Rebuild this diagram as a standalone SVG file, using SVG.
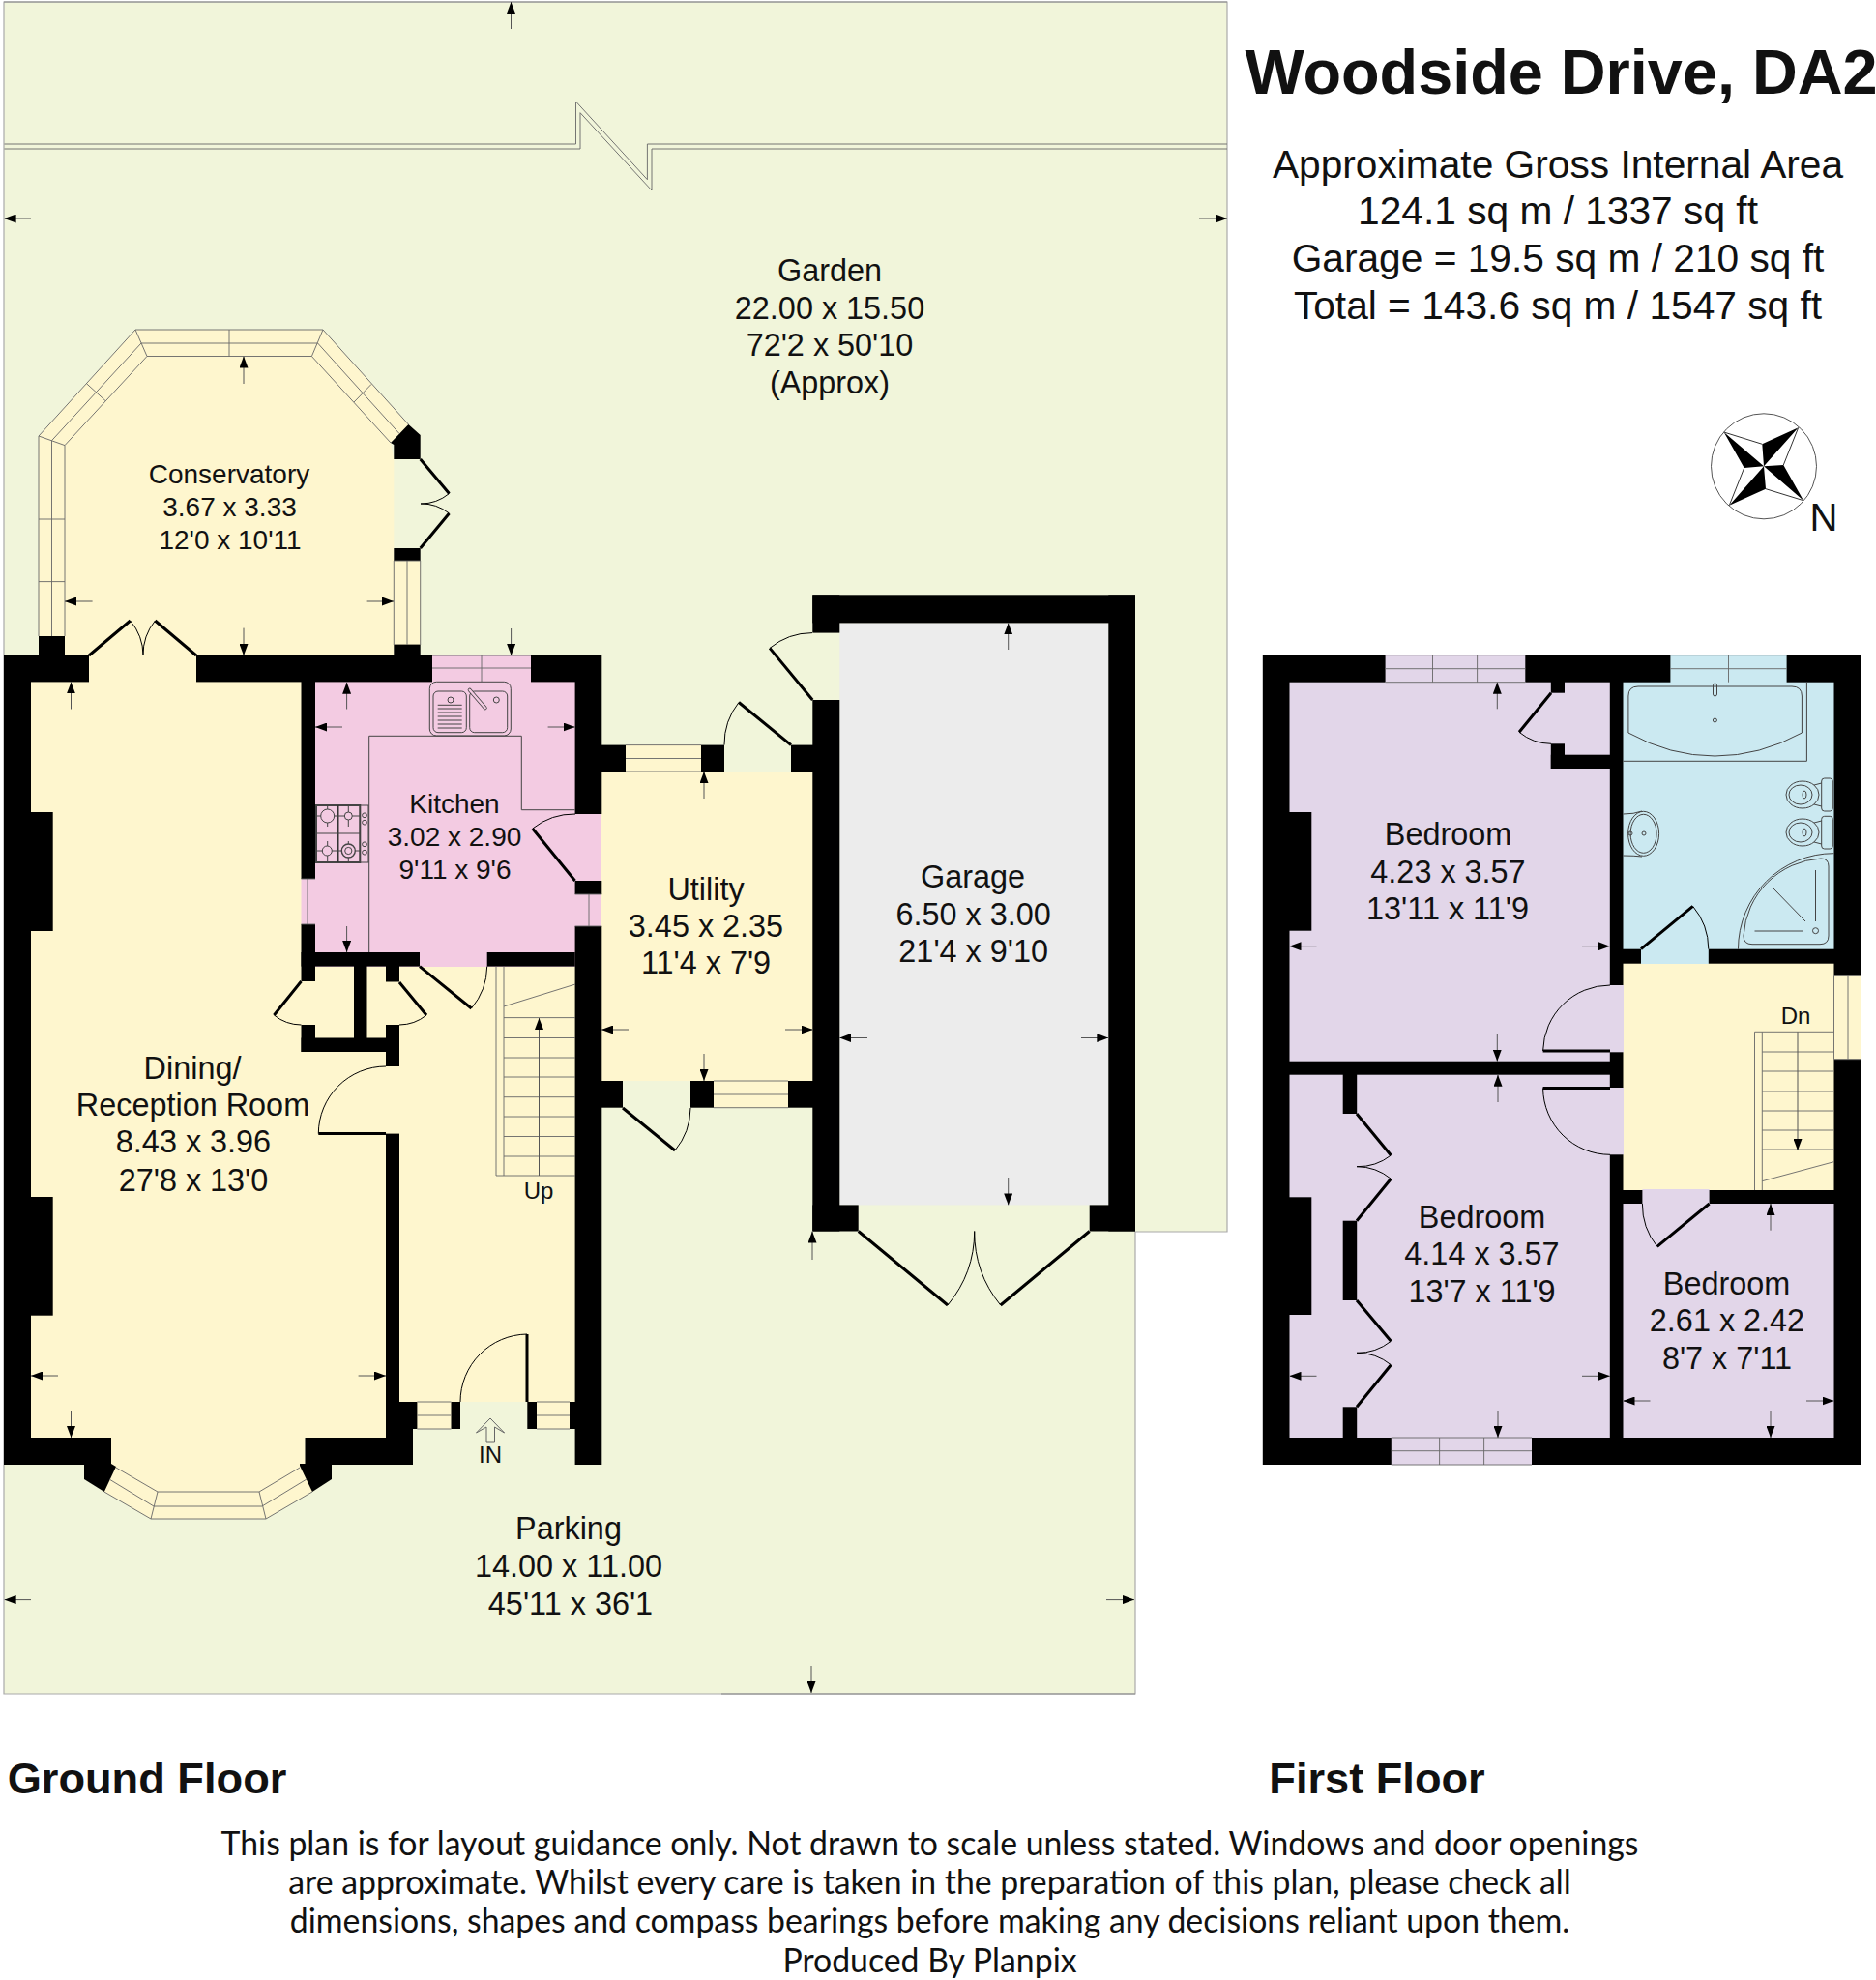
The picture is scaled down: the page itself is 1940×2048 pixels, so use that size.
<svg xmlns="http://www.w3.org/2000/svg" width="1940" height="2048" viewBox="0 0 1940 2048">
<style>
text{font-family:"Liberation Sans",Arial,sans-serif;fill:#111;text-anchor:middle}
.t32{font-size:32.4px}.t28{font-size:28px}.t24{font-size:24px}.t40{font-size:40.7px}
.b{font-weight:bold}
.cream{fill:#FEF6CE}.pink{fill:#F3CBE2}.lav{fill:#E2D6E9}.blue{fill:#CBE9F1}.grey{fill:#ECECEC}
.w{fill:#000}
.ln{fill:none;stroke:#666;stroke-width:.9}
.fx{fill:none;stroke:#444;stroke-width:1}
.leaf{fill:none;stroke:#000;stroke-width:3}
.arc{fill:none;stroke:#000;stroke-width:1}
.dim{fill:none;stroke:#555;stroke-width:1;marker-end:url(#ah)}
.note{font-family:Lato,"Open Sans",sans-serif;font-size:33.8px;fill:#111}
</style>
<defs>
<marker id="ah" markerUnits="userSpaceOnUse" markerWidth="12" markerHeight="9" refX="12" refY="4.5" orient="auto"><path d="M0,0L12,4.5L0,9Z" fill="#000"/></marker>
</defs>
<rect width="1940" height="2048" fill="#fff"/>

<g id="garden">
<path d="M4,2H1269V1274H1174V1752H4Z" fill="#F1F5DA" stroke="#aaa" stroke-width="1.2"/>
<path d="M4,2H1269M746,1752H1174" fill="none" stroke="#888" stroke-width="1.2"/>
<path class="ln" d="M4.5,149H595.5V105L669.4,185.7V149H1269M4.5,154H600V116.7L674,197V154H1269"/>
</g>

<g id="ground-floor-fills">
<path class="cream" d="M40,678V451L140,341H334L422.4,439L404,458L407.3,475V678Z"/>
<rect class="cream" x="407" y="580" width="28" height="87"/>
<rect class="cream" x="32" y="678" width="381" height="809"/>
<rect class="cream" x="413" y="999" width="182" height="451"/>
<path class="cream" d="M115,1487H315.5V1518L323,1543L275,1571H156L107.8,1543L115,1515Z"/>
<rect class="cream" x="431" y="1450" width="36" height="28"/>
<rect class="cream" x="555" y="1450" width="34" height="28"/>
<rect class="pink" x="326" y="678" width="269" height="322"/>
<rect class="pink" x="447" y="678" width="102" height="28"/>
<rect class="pink" x="595" y="842" width="28" height="116"/>
<rect class="pink" x="311.5" y="909" width="15" height="47"/>
<rect class="cream" x="622" y="798" width="219" height="320"/>
<rect class="cream" x="647" y="770.6" width="78" height="28"/>
<rect class="cream" x="738" y="1118" width="77" height="28"/>
<rect class="grey" x="868.3" y="644.4" width="278" height="602"/>
</g>

<g id="ground-floor-walls">
<rect class="w" x="4" y="678" width="88" height="27.4"/>
<rect class="w" x="203" y="678" width="244" height="27.4"/>
<rect class="w" x="549" y="678" width="73" height="27.4"/>
<rect class="w" x="40" y="658" width="27" height="21"/>
<rect class="w" x="407.3" y="666.6" width="27.4" height="12"/>
<rect class="w" x="407.3" y="567" width="27.4" height="13"/>
<path class="w" d="M404,458L422.4,439L434.7,450V475H407.3V460Z"/>
<rect class="w" x="4" y="678" width="28" height="837"/>
<rect class="w" x="31" y="840" width="23.7" height="123"/>
<rect class="w" x="31" y="1238" width="23.7" height="122.7"/>
<rect class="w" x="4" y="1487" width="111" height="28"/>
<rect class="w" x="315.5" y="1487" width="111.5" height="28"/>
<path class="w" d="M87,1514V1530L107.8,1543L120,1517L115,1514Z"/>
<path class="w" d="M310,1514V1516L323,1543L343,1530V1514Z"/>
<rect class="w" x="399" y="1172.6" width="14" height="315"/>
<rect class="w" x="399" y="1450" width="32.4" height="28"/>
<rect class="w" x="413" y="1478" width="14" height="37"/>
<rect class="w" x="466.5" y="1450" width="9.5" height="28"/>
<rect class="w" x="545.3" y="1450" width="9.7" height="28"/>
<rect class="w" x="589" y="1450" width="6" height="28"/>
<rect class="w" x="594.6" y="678" width="27.7" height="164"/>
<rect class="w" x="594.6" y="911" width="27.7" height="14"/>
<rect class="w" x="594.6" y="958" width="27.7" height="557"/>
<rect class="w" x="311.5" y="705" width="14.5" height="204"/>
<rect class="w" x="311.5" y="956" width="14.5" height="59"/>
<rect class="w" x="311.5" y="985" width="122.5" height="14.6"/>
<rect class="w" x="503.7" y="985" width="91" height="14.6"/>
<rect class="w" x="311.5" y="1060" width="14.5" height="28"/>
<rect class="w" x="311.5" y="1073.5" width="101.5" height="14.5"/>
<rect class="w" x="366" y="999" width="13.5" height="75"/>
<rect class="w" x="399" y="999" width="14" height="16.5"/>
<rect class="w" x="399" y="1060" width="14" height="43"/>
<rect class="w" x="622" y="770.6" width="25" height="27.4"/>
<rect class="w" x="725" y="770.6" width="24" height="27.4"/>
<rect class="w" x="818" y="770.6" width="23" height="27.4"/>
<rect class="w" x="622" y="1118" width="22" height="27.7"/>
<rect class="w" x="714" y="1118" width="24" height="27.7"/>
<rect class="w" x="815" y="1118" width="26" height="27.7"/>
<rect class="w" x="840.3" y="615.3" width="333.7" height="29.1"/>
<rect class="w" x="840.3" y="615.3" width="28" height="39.3"/>
<rect class="w" x="840.3" y="724" width="28" height="549.5"/>
<rect class="w" x="1146.3" y="615.3" width="27.7" height="658.2"/>
<rect class="w" x="840.3" y="1246.4" width="47.4" height="27.1"/>
<rect class="w" x="1126.7" y="1246.4" width="47.3" height="27.1"/>
</g>

<g id="ground-floor-windows">
<path class="ln" d="M40,658V451L140,341H334L422.4,439M53.5,658V455.7L146,355H328.6L413,448.5M67,658V460.6L152,368.5H322.4L404,458M40,451L67,460.6M140,341L152,368.5M334,341L322.4,368.5M40,537H67M40,601.6H67M237,341V368.5M89.4,396.6L109,414.5M384,397.5L366,416"/>
<path class="ln" d="M407.3,580V667M421,580V667M434.7,580V667M407.3,580H434.7"/>
<path class="ln" d="M447,691H549M498,678V705M447,678H549"/>
<path class="ln" d="M107.8,1543L156,1571H275L323,1543M113,1530L159,1558H271L317,1530M120,1518L163,1543H268L310,1518M163,1543L156,1571M268,1543L275,1571"/>
<path class="ln" d="M431.4,1450H466.5M431.4,1464H466.5M431.4,1478H466.5M555,1450H589M555,1464H589M555,1478H589"/>
<path class="ln" d="M311.5,909H326M311.5,956H326M318,909V956M594.6,925H622.3M594.6,958H622.3M609,925V958"/>
<path class="ln" d="M647,770.6H725M647,784.5H725M647,798H725M738,1118H815M738,1132H815M738,1145.7H815"/>
</g>

<g id="ground-floor-doors">
<path class="leaf" d="M92,678L134.7,642M203,678L160.4,642M434.7,475L464.5,510.5M434.7,567L464.5,531M594.6,911L550.7,857M311.5,1015L283.4,1050M413,1016L441,1050M434,999.6L487.5,1043M399,1172.6H329.3M545,1450V1380M818,770.6L764,726.5M644,1146L698,1190M840.3,724L796,670.4M887.7,1273.5L980,1350M1126.7,1273.5L1034.7,1350"/>
<path class="arc" d="M134.7,642A55.9,55.9 0 0 1 148,678M160.4,642A55.9,55.9 0 0 0 148,678M464.5,510.5A46.3,46.3 0 0 1 435,521M464.5,531A46.3,46.3 0 0 0 435,521M550.7,857A69.6,69.6 0 0 1 595,842M283.4,1050A45,45 0 0 0 311.5,1060M441,1050A45,45 0 0 1 413,1060M487.5,1043A69,69 0 0 0 503.7,999.6M329.3,1172.6A69.7,69.7 0 0 1 399,1103M545,1380A70,70 0 0 0 476,1450M764,726.5A69.7,69.7 0 0 0 749,770.6M698,1190A69.7,69.7 0 0 0 714,1146M796,670.4A69.5,69.5 0 0 1 840,654.6M980,1350A120,120 0 0 0 1007.7,1273.5M1034.7,1350A120,120 0 0 1 1007.7,1273.5"/>
</g>

<g id="ground-floor-fixtures">
<path class="fx" d="M381.7,985V761.3H539.3V837.7H594.6"/>
<rect class="fx" x="444.3" y="705.3" width="84" height="55.7" rx="7"/>
<rect class="fx" x="448" y="715" width="34.3" height="42.7" rx="5"/>
<rect class="fx" x="485.7" y="715" width="39" height="42.7" rx="5"/>
<circle class="fx" cx="466" cy="724" r="3"/><circle class="fx" cx="513.3" cy="724" r="3"/>
<path class="fx" d="M452.7,729.3H477.7M452.7,733H477.7M452.7,737H477.7M452.7,741H477.7M452.7,745H477.7M452.7,749H477.7M452.7,753H477.7"/>
<path d="M485.7,713.7L501.7,732.3" fill="none" stroke="#444" stroke-width="4" stroke-linecap="round"/>
<path d="M485.7,713.7L501.7,732.3" fill="none" stroke="#F3CBE2" stroke-width="2.4" stroke-linecap="round"/>
<rect x="327" y="833" width="45.3" height="59" fill="none" stroke="#444" stroke-width="2"/>
<path d="M349.7,833V892" fill="none" stroke="#333" stroke-width="1.6"/>
<path class="fx" d="M327,862H372M338.7,833V855M338.7,870V892M360.3,833V855M360.3,870V892M327,844H372M327,880H372" stroke-width="0.6"/>
<circle cx="338.7" cy="844" r="7" fill="#F3CBE2" stroke="#444"/><circle cx="360.3" cy="844" r="4" fill="#F3CBE2" stroke="#444"/>
<circle cx="338.3" cy="880" r="5" fill="#F3CBE2" stroke="#444"/><circle cx="360.3" cy="880" r="7" fill="#F3CBE2" stroke="#444" stroke-width="1.4"/><circle cx="360.3" cy="880" r="3.6" fill="none" stroke="#444"/>
<rect class="fx" x="372.3" y="833" width="8.7" height="59"/>
<circle class="fx" cx="377" cy="843.3" r="2.4"/><circle class="fx" cx="377" cy="850.7" r="2.4"/><circle class="fx" cx="377" cy="873.3" r="2.4"/><circle class="fx" cx="377" cy="881.7" r="2.4"/>
<path class="ln" d="M513,1000V1216H595M521,1000V1216M521,1041L595,1018M521,1052.6H595M521,1073.5H595M521,1094H595M521,1114H595M521,1134.7H595M521,1155H595M521,1175.5H595M521,1196H595"/>
<path class="dim" d="M557.5,1216V1053"/>
<path d="M507,1467L521.6,1482L511.5,1476V1492H503V1476L492.5,1482Z" fill="#F1F5DA" stroke="#666" stroke-width="1"/>
</g>

<g id="first-floor-fills">
<rect class="w" x="1305.8" y="677.7" width="618.5" height="837.3"/>
<rect class="lav" x="1333.5" y="705.7" width="331.3" height="392"/>
<rect class="lav" x="1333.5" y="1111.7" width="331.3" height="375.3"/>
<rect class="lav" x="1678.5" y="1245" width="218" height="242"/>
<rect class="blue" x="1678.5" y="705.7" width="218" height="276"/>
<rect class="cream" x="1678.5" y="996.7" width="218" height="234.3"/>
<rect class="lav" x="1432.6" y="677.7" width="144.7" height="28.5"/>
<rect class="lav" x="1438.8" y="1486.5" width="145.2" height="28.5"/>
<rect class="blue" x="1727.4" y="677.7" width="120.2" height="28.5"/>
<rect class="blue" x="1697" y="981" width="69.8" height="16"/>
<rect class="lav" x="1664" y="1019" width="15" height="69.3"/>
<rect class="lav" x="1664" y="1125" width="15" height="69.3"/>
<rect class="lav" x="1698.4" y="1230" width="69.2" height="16"/>
<rect class="cream" x="1896" y="1009.3" width="28.3" height="86.4"/>
</g>

<g id="first-floor-walls">
<rect class="w" x="1330" y="840" width="26.3" height="122.7"/>
<rect class="w" x="1330" y="1238.3" width="26.3" height="121.7"/>
<rect class="w" x="1603.8" y="705" width="14.2" height="11.7"/>
<rect class="w" x="1603.8" y="769.3" width="14.2" height="25.7"/>
<rect class="w" x="1603.8" y="780.7" width="62" height="14.3"/>
<rect class="w" x="1388.7" y="1111" width="14.5" height="41"/>
<rect class="w" x="1388.7" y="1262.7" width="14.5" height="82.3"/>
<rect class="w" x="1388.7" y="1455.3" width="14.5" height="32"/>
</g>

<g id="first-floor-windows">
<path class="ln" d="M1432.6,677.7H1577.3M1432.6,691.7H1577.3M1432.6,705.7H1577.3M1481.5,677.7V705.7M1527.6,677.7V705.7"/>
<path class="ln" d="M1727.4,691.7H1847.6M1727.4,677.7H1847.6M1787.5,677.7V705.7"/>
<path class="ln" d="M1438.8,1487H1584M1438.8,1500.7H1584M1438.8,1515H1584M1488.6,1487V1515M1534.6,1487V1515"/>
<path class="ln" d="M1896.5,1009.3H1924.3M1896.5,1095.7H1924.3M1896.5,1009.3V1095.7M1911,1009.3V1095.7"/>
</g>

<g id="first-floor-doors">
<path class="leaf" d="M1604,716.7L1571,757.3M1697,981.7L1750.6,937.3M1665,1087H1595.6M1665,1125.5H1595.6M1767.6,1245L1713.7,1289.3M1403,1152L1438.4,1195M1403,1262.7L1438.4,1219.3M1403,1345L1438.4,1387.3M1403,1455.3L1438.4,1411.7"/>
<path class="arc" d="M1571,757.3A52.3,52.3 0 0 0 1604,769.3M1750.6,937.3A69.6,69.6 0 0 1 1766.8,981.7M1595.6,1087A69.4,69.4 0 0 1 1665,1019M1595.6,1125.5A69.4,69.4 0 0 0 1665,1194.3M1713.7,1289.3A69.6,69.6 0 0 1 1698.4,1245M1438.4,1195A55.7,55.7 0 0 1 1403,1206.7M1438.4,1219.3A55.7,55.7 0 0 0 1403,1206.7M1438.4,1387.3A55.7,55.7 0 0 1 1403,1399.3M1438.4,1411.7A55.7,55.7 0 0 0 1403,1399.3"/>
</g>

<g id="first-floor-fixtures">
<path class="fx" d="M1678.5,787.3H1868.4V705.7"/>
<path class="fx" d="M1683.9,758V720Q1683.9,710 1694,710H1853Q1863.4,710 1863.4,720V758Q1820,782 1773.4,782Q1727,782 1683.9,758Z"/>
<rect class="fx" x="1771.5" y="707" width="4" height="13" rx="2"/><circle class="fx" cx="1773.4" cy="745" r="2"/>
<rect class="fx" x="1883.7" y="805" width="11.6" height="34" rx="3"/>
<ellipse class="fx" cx="1864" cy="822" rx="17" ry="14"/><ellipse class="fx" cx="1862" cy="822" rx="12" ry="10"/><ellipse class="fx" cx="1866" cy="822" rx="2" ry="4"/>
<path class="fx" d="M1876,812L1883.7,810M1876,832L1883.7,834"/>
<rect class="fx" x="1883.7" y="844.3" width="11.6" height="33.7" rx="3"/>
<ellipse class="fx" cx="1864" cy="861" rx="17" ry="14"/><ellipse class="fx" cx="1862" cy="861" rx="12" ry="10"/><ellipse class="fx" cx="1866" cy="861" rx="2" ry="4"/>
<path class="fx" d="M1876,851L1883.7,849M1876,871L1883.7,873"/>
<ellipse class="fx" cx="1699.6" cy="862.3" rx="16" ry="23"/><ellipse class="fx" cx="1699.6" cy="862.3" rx="13.5" ry="20"/>
<path class="fx" d="M1678.5,842Q1690,842 1698,839M1678.5,885Q1690,885 1698,886"/>
<circle class="fx" cx="1686" cy="862" r="2"/><circle class="fx" cx="1700" cy="862" r="2"/>
<path class="fx" d="M1797.5,981.7A99,99 0 0 1 1896.5,882.7"/>
<path class="fx" d="M1803,968A85,85 0 0 1 1883,888Q1891,888 1891,896V968Q1891,976.7 1882,976.7H1812Q1803,976.7 1803,968Z"/>
<path class="fx" d="M1877.5,900V953M1814.5,963H1864M1833,918L1867,953"/><circle class="fx" cx="1877.5" cy="962.7" r="3"/>
<path class="ln" d="M1814.5,1231V1067.3H1896.5M1822.3,1067.3V1231M1822.3,1088H1896.5M1822.3,1108H1896.5M1822.3,1129H1896.5M1822.3,1149H1896.5M1822.3,1169H1896.5M1822.3,1189H1896.5M1822.3,1221.7L1896.5,1201.7"/>
<path class="dim" d="M1859,1067.3V1190"/>
</g>

<g id="dimension-arrows">
<path class="dim" d="M528.5,30V2"/><path class="dim" d="M32,226H4.6"/><path class="dim" d="M1240,226H1269"/>
<path class="dim" d="M252,397V368.5"/><path class="dim" d="M252,649.6V678"/><path class="dim" d="M95.6,622H67"/><path class="dim" d="M379.6,622H407"/>
<path class="dim" d="M73.5,733.5V705.4"/><path class="dim" d="M73.5,1459V1487"/><path class="dim" d="M60,1423H32"/><path class="dim" d="M370.6,1423H399"/>
<path class="dim" d="M358.6,733.5V705.7"/><path class="dim" d="M358.6,958V985"/><path class="dim" d="M354,752H326"/><path class="dim" d="M566.6,752H594.6"/><path class="dim" d="M528.6,650V678"/>
<path class="dim" d="M728,826V798"/><path class="dim" d="M728,1090V1118"/><path class="dim" d="M650,1065H622"/><path class="dim" d="M812,1065H840.6"/>
<path class="dim" d="M1042.7,672V644.4"/><path class="dim" d="M1042.7,1218V1246.4"/><path class="dim" d="M897,1073.5H868.3"/><path class="dim" d="M1118,1073.5H1146.3"/>
<path class="dim" d="M840,1303V1273.5"/><path class="dim" d="M32,1654.6H4.6"/><path class="dim" d="M1144,1654.6H1173"/><path class="dim" d="M839,1723V1751"/>
<path class="dim" d="M1548.3,733.3V705.7"/><path class="dim" d="M1548.3,1069.3V1097.7"/><path class="dim" d="M1361.5,978.7H1333.5"/><path class="dim" d="M1636,978.7H1664.8"/>
<path class="dim" d="M1549,1140V1111.7"/><path class="dim" d="M1549,1459V1487"/><path class="dim" d="M1361.5,1423.3H1333.5"/><path class="dim" d="M1636,1423.3H1664.8"/>
<path class="dim" d="M1831,1272.7V1245"/><path class="dim" d="M1831,1459V1487"/><path class="dim" d="M1706.5,1449H1678.5"/><path class="dim" d="M1868,1449H1896.5"/>
</g>

<g id="compass">
<circle cx="1824" cy="482.3" r="54.5" fill="none" stroke="#555" stroke-width="1"/>
<path d="M1782.7,447L1803.7,484L1824,482.3ZM1859.7,442.3L1822.3,459.3L1824,482.3ZM1865,517.7L1844.3,481L1824,482.3ZM1788.3,522.7L1826,505.7L1824,482.3Z" fill="#000"/>
<path d="M1782.7,447L1822.3,459.3M1859.7,442.3L1844.3,481M1865,517.7L1826,505.7M1788.3,522.7L1803.7,484" fill="none" stroke="#333" stroke-width="1"/>
<text x="1886" y="549" font-size="40">N</text>
</g>

<g id="labels">
<text class="t32" x="858" y="291">Garden</text><text class="t32" x="858" y="330">22.00 x 15.50</text><text class="t32" x="858" y="368">72'2 x 50'10</text><text class="t32" x="858" y="407">(Approx)</text>
<text class="t28" x="237" y="500">Conservatory</text><text class="t28" x="237.5" y="534">3.67 x 3.33</text><text class="t28" x="238" y="567.7">12'0 x 10'11</text>
<text class="t28" x="470" y="840.5">Kitchen</text><text class="t28" x="470" y="875">3.02 x 2.90</text><text class="t28" x="470.5" y="908.5">9'11 x 9'6</text>
<text class="t32" x="730" y="930.5">Utility</text><text class="t32" x="730" y="968.5">3.45 x 2.35</text><text class="t32" x="730" y="1007">11'4 x 7'9</text>
<text class="t32" x="1006" y="918">Garage</text><text class="t32" x="1006.7" y="956.5">6.50 x 3.00</text><text class="t32" x="1006.7" y="995">21'4 x 9'10</text>
<text class="t32" x="199" y="1115.5">Dining/</text><text class="t32" x="199.5" y="1153.5">Reception Room</text><text class="t32" x="200" y="1192">8.43 x 3.96</text><text class="t32" x="200" y="1231.5">27'8 x 13'0</text>
<text class="t24" x="557" y="1240">Up</text><text class="t24" x="507" y="1513">IN</text>
<text class="t32" x="588" y="1592">Parking</text><text class="t32" x="588" y="1631">14.00 x 11.00</text><text class="t32" x="590" y="1670">45'11 x 36'1</text>
<text class="t32" x="1497.5" y="874">Bedroom</text><text class="t32" x="1497.5" y="912.5">4.23 x 3.57</text><text class="t32" x="1497" y="951.3">13'11 x 11'9</text>
<text class="t32" x="1532.5" y="1269.5">Bedroom</text><text class="t32" x="1532.5" y="1308.3">4.14 x 3.57</text><text class="t32" x="1532.5" y="1346.7">13'7 x 11'9</text>
<text class="t32" x="1785.5" y="1339">Bedroom</text><text class="t32" x="1786" y="1377">2.61 x 2.42</text><text class="t32" x="1786" y="1415.7">8'7 x 7'11</text>
<text class="t24" x="1857" y="1059">Dn</text>
</g>

<g id="headings">
<text class="b" x="1614.5" y="97" font-size="64.8">Woodside Drive, DA2</text>
<text class="t40" x="1611" y="184">Approximate Gross Internal Area</text>
<text class="t40" x="1611" y="232">124.1 sq m / 1337 sq ft</text>
<text class="t40" x="1611" y="281">Garage = 19.5 sq m / 210 sq ft</text>
<text class="t40" x="1611" y="330">Total = 143.6 sq m / 1547 sq ft</text>
<text class="b" x="152" y="1855" font-size="45.2">Ground Floor</text>
<text class="b" x="1424" y="1855" font-size="45.2">First Floor</text>
<text class="note" x="961.5" y="1919">This plan is for layout guidance only. Not drawn to scale unless stated. Windows and door openings</text>
<text class="note" x="961.5" y="1959">are approximate. Whilst every care is taken in the preparation of this plan, please check all</text>
<text class="note" x="961.5" y="1999">dimensions, shapes and compass bearings before making any decisions reliant upon them.</text>
<text class="note" x="961.5" y="2040">Produced By Planpix</text>
</g>
</svg>
